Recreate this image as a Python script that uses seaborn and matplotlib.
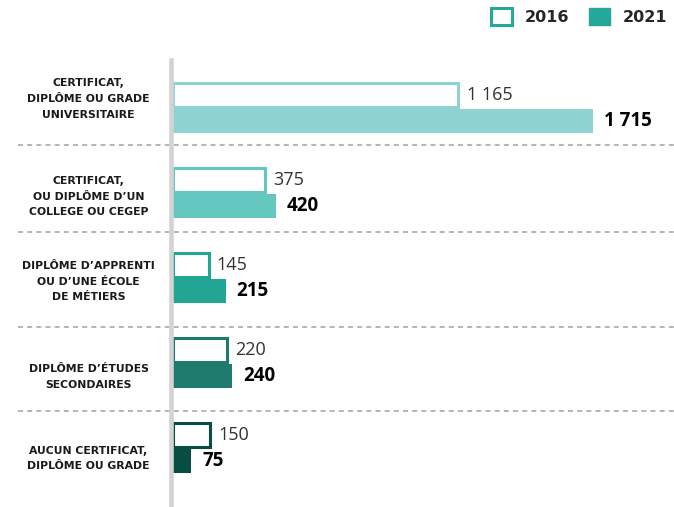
import matplotlib
matplotlib.use('Agg')
import matplotlib.pyplot as plt
import seaborn as sns
import pandas as pd
from matplotlib.patches import Patch

# données
categories = ['CERTIFICAT,\nDIPLÔME OU GRADE\nUNIVERSITAIRE',
              'CERTIFICAT,\nOU DIPLÔME D\u2019UN\nCOLLEGE OU CEGEP',
              'DIPLÔME D\u2019APPRENTI\nOU D\u2019UNE ÉCOLE\nDE MÉTIERS',
              'DIPLÔME D\u2019ÉTUDES\nSECONDAIRES',
              'AUCUN CERTIFICAT,\nDIPLÔME OU GRADE']
years = ['2016', '2021']
values_2016 = [1165, 375, 145, 220, 150]
values_2021 = [1715, 420, 215, 240, 75]
row_colors = ['#8dd3d2', '#63c7bf', '#23a594', '#1d7a6d', '#084d41']
legend_color = '#26a898'

df = pd.DataFrame({
    'niveau': categories * 2,
    'annee': [years[0]] * len(categories) + [years[1]] * len(categories),
    'valeur': values_2016 + values_2021,
})


def fmt(v):
    return f'{v:,}'.replace(',', ' ')


sns.set_style('white')
plt.rcParams['font.family'] = ['DejaVu Sans']

fig = plt.figure(figsize=(6.74, 5.07), dpi=100)
ax = fig.add_axes([173 / 674, 0, 497 / 674, 447 / 507])

sns.barplot(data=df, y='niveau', x='valeur', hue='annee', orient='h',
            width=0.6, gap=0.06, errorbar=None, legend=False, ax=ax)

for i, bar in enumerate(ax.containers[0]):
    bar.set_facecolor('white')
    bar.set_edgecolor(row_colors[i])
    bar.set_linewidth(2.2)
for i, bar in enumerate(ax.containers[1]):
    bar.set_facecolor(row_colors[i])
    bar.set_edgecolor('none')

ax.bar_label(ax.containers[0], labels=[fmt(v) for v in values_2016], padding=6,
             fontsize=13, color='#333333', family='Open Sans')
ax.bar_label(ax.containers[1], labels=[fmt(v) for v in values_2021], padding=8,
             fontsize=13.5, color='black', family='Open Sans', fontweight='bold')

sns.despine(ax=ax, top=True, right=True, bottom=True, left=False)
ax.spines['left'].set_color('#d3d3d3')
ax.spines['left'].set_linewidth(3.3)
ax.spines['left'].set_position(('outward', 1.8))

ax.set_ylim(4.694, -0.565)
ax.set_xlim(0, 2030)
ax.set_xticks([])
ax.set_xlabel('')
ax.set_ylabel('')

# étiquettes des catégories (légèrement décalées comme l'original)
label_shift = [-0.15, 0, 0, 0.12, 0.08]
ax.set_yticks([i + s for i, s in enumerate(label_shift)], labels=categories,
              fontsize=7.8, fontweight='bold', color='#1a1a1a', linespacing=1.7,
              ha='center', multialignment='center')
ax.tick_params(axis='y', length=0, pad=59)

# séparateurs pointillés
for y in [0.44, 1.46, 2.58, 3.56]:
    ax.plot([-0.312, 1.01], [y, y], transform=ax.get_yaxis_transform(),
            clip_on=False, color='#a8a8a8', lw=1.2, linestyle=(0, (3, 2.5)), zorder=1)

handles = [Patch(facecolor='white', edgecolor=legend_color, linewidth=2.2),
           Patch(facecolor=legend_color, edgecolor=legend_color)]
fig.legend(handles, years, loc='upper right', bbox_to_anchor=(667 / 674, 1 - 8 / 507),
           ncols=2, frameon=False, borderpad=0, borderaxespad=0,
           handlelength=1.3, handleheight=1.3, handletextpad=0.8, columnspacing=1.25,
           prop={'family': 'DejaVu Sans', 'weight': 'bold', 'size': 11.5})

fig.savefig('out.png', dpi=100)
